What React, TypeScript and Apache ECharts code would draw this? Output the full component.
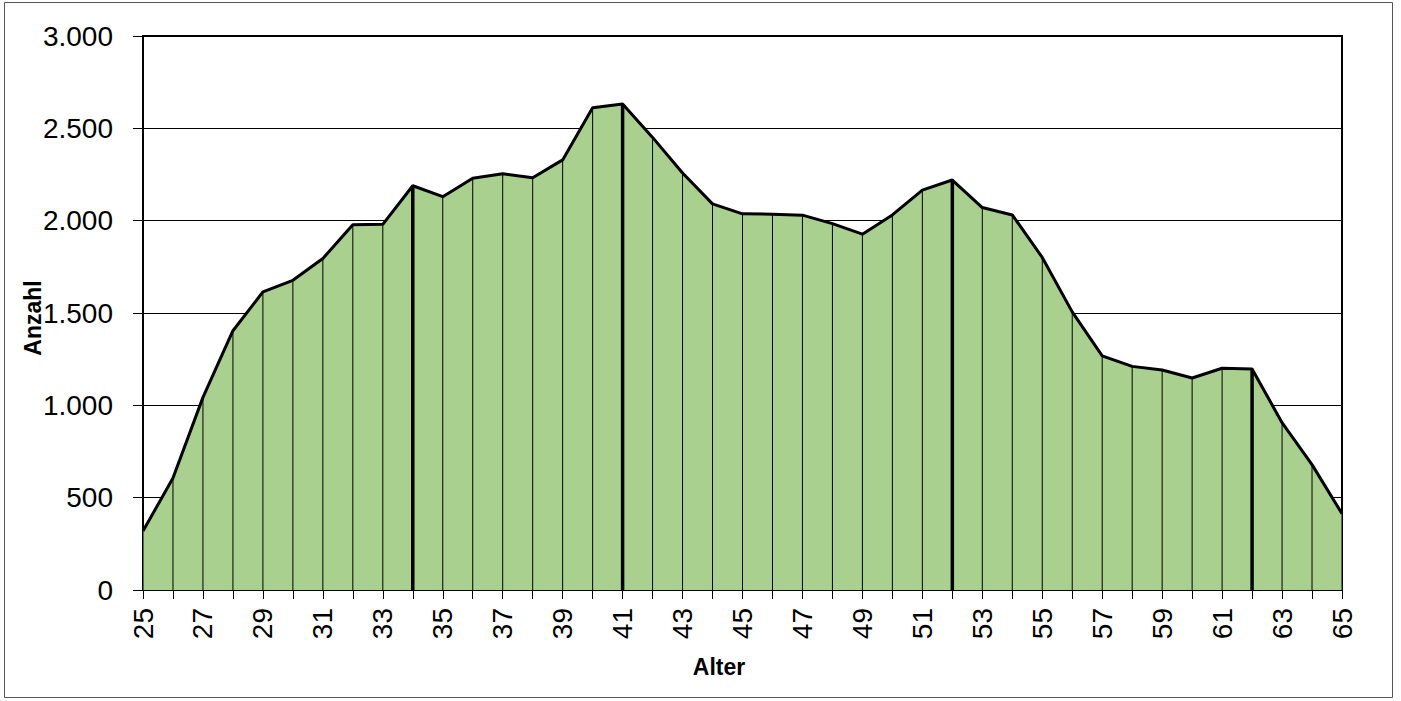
import React, { useEffect, useRef } from "react";
import * as echarts from "echarts";

const ages = [
  "25", "26", "27", "28", "29", "30", "31", "32", "33", "34", "35", "36", "37", "38",
  "39", "40", "41", "42", "43", "44", "45", "46", "47", "48", "49", "50", "51", "52",
  "53", "54", "55", "56", "57", "58", "59", "60", "61", "62", "63", "64", "65",
];
const counts = [
  319, 606, 1043, 1404, 1614, 1677, 1795, 1978, 1980, 2189, 2130, 2230, 2254, 2232,
  2329, 2612, 2632, 2451, 2258, 2091, 2037, 2035, 2030, 1984, 1927, 2031, 2165, 2220,
  2071, 2031, 1801, 1506, 1268, 1211, 1191, 1148, 1201, 1197, 906, 679, 413,
];
const thickAges = ["34", "41", "52", "62"];
const yTitle = "Anzahl";
const xTitle = "Alter";

const FONT = "'Liberation Sans', Arial, sans-serif";

export default function App() {
  const ref = useRef<HTMLDivElement>(null);
  useEffect(() => {
    if (!ref.current) return;
    const chart = echarts.init(ref.current, null, { renderer: "svg" });
    chart.setOption({
      animation: false,
      backgroundColor: "#fff",
      grid: {
        left: 143,
        right: 59,
        top: 36,
        bottom: 111,
        show: true,
        borderColor: "#000",
        borderWidth: 2,
        backgroundColor: "transparent",
      },
      xAxis: {
        type: "category",
        data: ages,
        boundaryGap: false,
        axisLine: { show: true, lineStyle: { color: "#000", width: 2 } },
        axisTick: { show: true, interval: 0, length: 9, lineStyle: { color: "#000", width: 1 } },
        axisLabel: {
          interval: 1,
          rotate: 90,
          margin: 18,
          color: "#000",
          fontSize: 28,
          fontFamily: FONT,
        },
        splitLine: { show: false },
      },
      yAxis: {
        type: "value",
        min: 0,
        max: 3000,
        interval: 500,
        axisLine: { show: true, lineStyle: { color: "#000", width: 2 } },
        axisTick: { show: true, length: 10, lineStyle: { color: "#000", width: 1 } },
        axisLabel: {
          margin: 30,
          color: "#000",
          fontSize: 28,
          fontFamily: FONT,
          formatter: (v: number) => {
            const s = String(Math.round(v));
            return s.length > 3 ? s.slice(0, s.length - 3) + "." + s.slice(-3) : s;
          },
        },
        splitLine: { show: true, lineStyle: { color: "#000", width: 1 } },
      },
      graphic: [
        {
          type: "rect",
          shape: { x: 4.5, y: 2.5, width: 1388, height: 695 },
          style: { fill: "none", stroke: "#555", lineWidth: 1 },
          silent: true,
        },
        {
          type: "text",
          x: 33,
          y: 318,
          rotation: Math.PI / 2,
          style: {
            text: yTitle,
            font: `bold 23px ${FONT}`,
            fill: "#000",
            textAlign: "center",
            textVerticalAlign: "middle",
          },
        },
        {
          type: "text",
          x: 719,
          y: 667,
          style: {
            text: xTitle,
            font: `bold 23px ${FONT}`,
            fill: "#000",
            textAlign: "center",
            textVerticalAlign: "middle",
          },
        },
      ],
      series: [
        {
          type: "line",
          data: counts,
          symbol: "none",
          lineStyle: { width: 0, opacity: 0 },
          areaStyle: { color: "#A9D08E", opacity: 1 },
          z: 2,
        },
        {
          type: "custom",
          data: counts.map((v, i) => [i, v]),
          z: 3,
          renderItem: (params: any, api: any) => {
            const i = api.value(0);
            const v = api.value(1);
            const top = api.coord([i, v]);
            const bot = api.coord([i, 0]);
            const thick = thickAges.includes(ages[params.dataIndex]);
            return {
              type: "line",
              shape: { x1: top[0], y1: top[1], x2: bot[0], y2: bot[1] },
              style: { stroke: "#000", lineWidth: thick ? 3.5 : 1 },
            };
          },
        },
        {
          type: "line",
          data: counts,
          symbol: "none",
          lineStyle: { color: "#000", width: 3 },
          z: 4,
        },
      ],
    });
    return () => chart.dispose();
  }, []);
  return (
    <div
      ref={ref}
      style={{ position: "fixed", left: 0, top: 0, width: 1401, height: 701 }}
    />
  );
}
